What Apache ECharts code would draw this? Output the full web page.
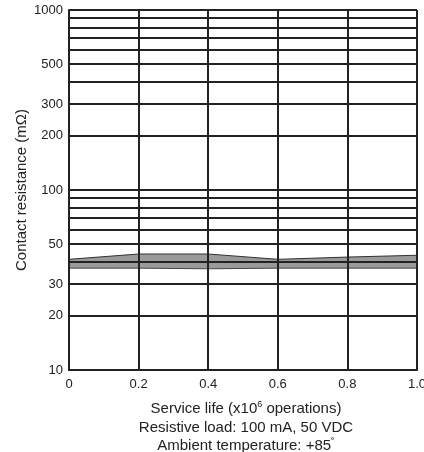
<!DOCTYPE html>
<html><head><meta charset="utf-8">
<script src="https://cdn.jsdelivr.net/npm/echarts@6/dist/echarts.min.js"></script>
<style>html,body{margin:0;padding:0;background:#fff;overflow:hidden}#c{width:424px;height:452px}</style>
</head><body><div id="c"></div>
<script>
// Data
const xValues = [0, 0.2, 0.4, 0.6, 0.8, 1.0];
const bandTop = [41.2, 44.1, 44.1, 41.2, 42.4, 43.4];
const bandBottom = [36.8, 36.8, 36.5, 36.8, 36.8, 36.8];
const gridValues = [10, 20, 30, 40, 50, 60, 70, 80, 90, 100, 200, 300, 400, 500, 600, 700, 800, 900, 1000];
const yLabels = [10, 20, 30, 50, 100, 200, 300, 500, 1000];
const xTickLabels = ['0', '0.2', '0.4', '0.6', '0.8', '1.0'];

const FONT = 'Liberation Sans, Arial, sans-serif';
const INK = '#222222';

const chart = echarts.init(document.getElementById('c'), null, {renderer: 'canvas', width: 424, height: 452});
const pairs = (ys) => xValues.map((x, i) => [x, ys[i]]);

chart.setOption({
  animation: false,
  backgroundColor: '#ffffff',
  grid: {left: 69, right: 7, top: 10, bottom: 82, containLabel: false, outerBoundsMode: 'none'},
  xAxis: {
    type: 'value', min: 0, max: 1, interval: 0.2, z: 6,
    axisLine: {show: true, lineStyle: {color: INK, width: 2}},
    axisTick: {show: false},
    splitLine: {show: true, lineStyle: {color: INK, width: 2}},
    axisLabel: {
      margin: 8, color: INK, fontSize: 13, fontFamily: FONT,
      formatter: (v) => xTickLabels[Math.round(v / 0.2)]
    }
  },
  yAxis: {
    type: 'log', logBase: 10, min: 10, max: 1000, z: 6,
    name: 'Contact resistance (mΩ)', nameLocation: 'middle', nameGap: 40,
    nameTextStyle: {color: INK, fontSize: 15, fontFamily: FONT},
    axisLine: {show: true, lineStyle: {color: INK, width: 2}},
    axisTick: {show: false},
    axisLabel: {show: false},
    splitLine: {show: true, lineStyle: {color: INK, width: 2}}
  },
  series: [
    {
      type: 'line', z: 2, data: pairs(bandTop), symbol: 'none',
      lineStyle: {color: '#333', width: 1},
      areaStyle: {color: '#9a9a9a', opacity: 1, origin: 'start'}
    },
    {
      type: 'line', z: 3, data: pairs(bandBottom), symbol: 'none',
      lineStyle: {color: '#444', width: 1},
      areaStyle: {color: '#ffffff', opacity: 1, origin: 'start'}
    },
    {
      type: 'line', z: 8, data: [], symbol: 'none',
      markLine: {
        silent: true, symbol: 'none', animation: false,
        lineStyle: {color: INK, width: 2, type: 'solid'},
        label: {
          position: 'start', distance: 6, color: INK, fontSize: 13, fontFamily: FONT,
          formatter: (p) => String(p.value)
        },
        data: gridValues.map(v => ({yAxis: v, label: {show: yLabels.includes(v)}}))
      }
    }
  ],
  graphic: [
    {type: 'text', x: 246, y: 409, style: {
      text: '{n|Service life (x10}{s|6}{n| operations)}', textAlign: 'center', textVerticalAlign: 'middle',
      rich: {n: {fontSize: 15, fontFamily: FONT, fill: INK, lineHeight: 18},
             s: {fontSize: 9, fontFamily: FONT, fill: INK, verticalAlign: 'top', lineHeight: 18}}
    }},
    {type: 'text', x: 246, y: 428, style: {
      text: 'Resistive load: 100 mA, 50 VDC', textAlign: 'center', textVerticalAlign: 'middle',
      font: '15px ' + FONT, fill: INK
    }},
    {type: 'text', x: 246, y: 446, style: {
      text: '{n|Ambient temperature: +85}{s|˚}', textAlign: 'center', textVerticalAlign: 'middle',
      rich: {n: {fontSize: 15, fontFamily: FONT, fill: INK, lineHeight: 18},
             s: {fontSize: 11, fontFamily: FONT, fill: INK, verticalAlign: 'top', lineHeight: 18}}
    }}
  ]
});
</script>
</body></html>
